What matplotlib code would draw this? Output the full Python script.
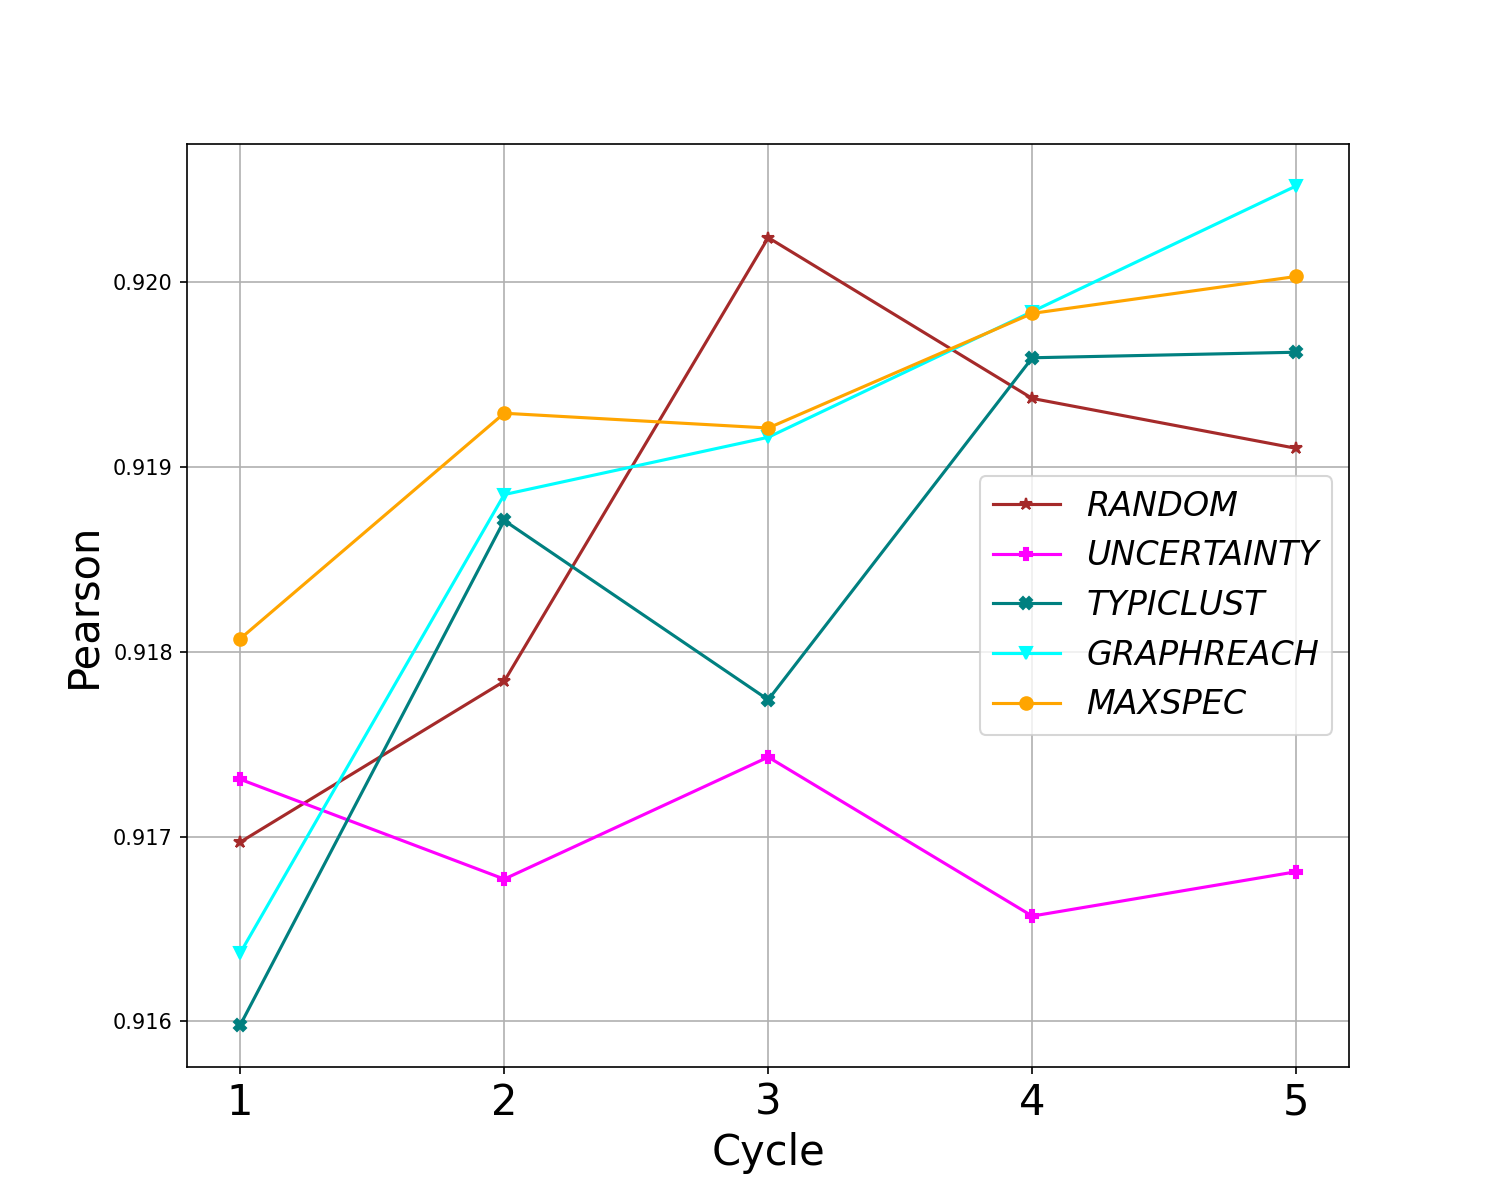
import matplotlib
matplotlib.use("Agg")
import matplotlib.pyplot as plt

cycles = [1, 2, 3, 4, 5]
random_vals = [0.91697, 0.91784, 0.92024, 0.91937, 0.91910]
uncertainty_vals = [0.91731, 0.91677, 0.91743, 0.91657, 0.91681]
typiclust_vals = [0.91598, 0.91871, 0.91774, 0.91959, 0.91962]
graphreach_vals = [0.91637, 0.91885, 0.91916, 0.91984, 0.92052]
maxspec_vals = [0.91807, 0.91929, 0.91921, 0.91983, 0.92003]

series = [
    ("RANDOM", random_vals, "brown", "*"),
    ("UNCERTAINTY", uncertainty_vals, "magenta", "P"),
    ("TYPICLUST", typiclust_vals, "teal", "X"),
    ("GRAPHREACH", graphreach_vals, "cyan", "v"),
    ("MAXSPEC", maxspec_vals, "orange", "o"),
]

fig, ax = plt.subplots(figsize=(1499 / 150, 1199 / 150), dpi=150)
for name, vals, color, marker in series:
    ax.plot(cycles, vals, color=color, marker=marker, label=name)

ax.set_xticks(cycles)
ax.tick_params(axis="x", labelsize=20)
ax.set_xlabel("Cycle", fontsize=20)
ax.set_ylabel("Pearson", fontsize=20)
ax.grid(True)
ax.legend(loc="center right", prop={"style": "italic", "size": 16})
fig.savefig("out.png", dpi=150)
